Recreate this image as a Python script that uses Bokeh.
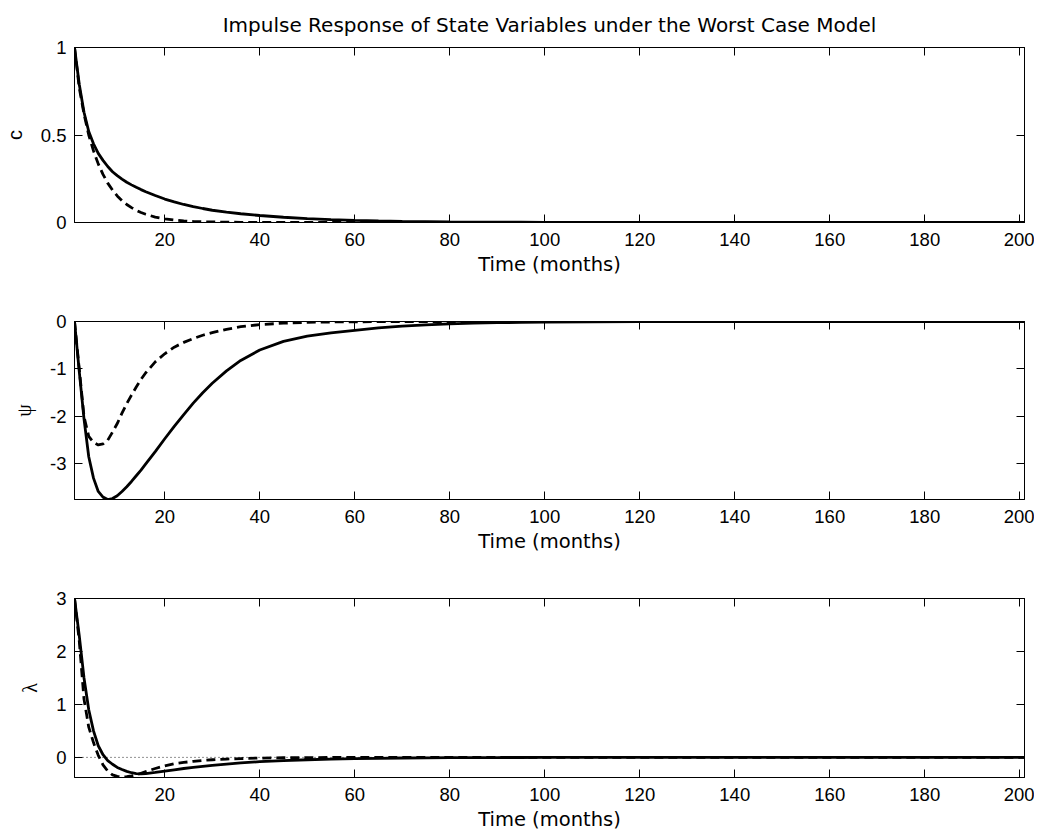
from bokeh.plotting import figure
from bokeh.layouts import column
from bokeh.models import Range1d, FixedTicker, LinearAxis, Span
from bokeh.embed import file_html
from bokeh.resources import INLINE

# ---------------- data ----------------
months = [1, 2, 3, 4, 5, 6, 7, 8, 9, 10, 11, 12, 13, 14, 15, 16, 18, 20, 22, 24,
          26, 28, 30, 33, 36, 40, 45, 50, 55, 60, 65, 70, 75, 80, 85, 90, 95, 100,
          110, 120, 140, 170, 201]

c_solid = [1.0, 0.79, 0.63, 0.52, 0.45, 0.395, 0.355, 0.32, 0.29, 0.268, 0.248, 0.23,
           0.215, 0.201, 0.188, 0.176, 0.154, 0.134, 0.118, 0.103, 0.091, 0.08, 0.07,
           0.059, 0.05, 0.04, 0.03, 0.022, 0.016, 0.012, 0.009, 0.0065, 0.005, 0.0036,
           0.0026, 0.0019, 0.0014, 0.001, 0.0005, 0.0003, 0.0001, 0.0, 0.0]
c_dashed = [1.0, 0.77, 0.62, 0.5, 0.41, 0.335, 0.275, 0.225, 0.185, 0.152, 0.125, 0.103,
            0.085, 0.07, 0.057, 0.047, 0.031, 0.021, 0.014, 0.009, 0.006, 0.004, 0.003,
            0.0018, 0.001, 0.0005, 0.0002, 0.0001, 0.0, 0.0, 0.0, 0.0, 0.0, 0.0,
            0.0, 0.0, 0.0, 0.0, 0.0, 0.0, 0.0, 0.0, 0.0]

psi_solid = [0.0, -1.05, -2.05, -2.85, -3.3, -3.58, -3.7, -3.75, -3.73, -3.67, -3.58, -3.48,
             -3.37, -3.25, -3.13, -3.0, -2.74, -2.47, -2.21, -1.96, -1.72, -1.5, -1.3,
             -1.04, -0.82, -0.6, -0.42, -0.31, -0.24, -0.185, -0.135, -0.097, -0.07, -0.05,
             -0.035, -0.025, -0.017, -0.012, -0.006, -0.003, -0.001, 0.0, 0.0]
psi_dashed = [0.0, -1.0, -2.0, -2.42, -2.55, -2.6, -2.58, -2.5, -2.33, -2.15, -1.93, -1.73,
              -1.55, -1.38, -1.22, -1.08, -0.85, -0.68, -0.54, -0.44, -0.36, -0.29, -0.235,
              -0.165, -0.11, -0.065, -0.035, -0.018, -0.01, -0.006, -0.003, -0.002, -0.001,
              0.0, 0.0, 0.0, 0.0, 0.0, 0.0, 0.0, 0.0, 0.0, 0.0]

lam_solid = [3.0, 2.3, 1.5, 0.9, 0.5, 0.22, 0.05, -0.06, -0.13, -0.19, -0.23, -0.265,
             -0.29, -0.305, -0.31, -0.305, -0.285, -0.26, -0.235, -0.21, -0.19, -0.17, -0.15,
             -0.127, -0.105, -0.082, -0.06, -0.045, -0.033, -0.024, -0.017, -0.012, -0.009,
             -0.006, -0.004, -0.003, -0.002, -0.001, 0.0, 0.0, 0.0, 0.0, 0.0]
lam_dashed = [3.0, 2.2, 1.1, 0.57, 0.28, 0.04, -0.14, -0.26, -0.33, -0.36, -0.37, -0.365,
              -0.35, -0.33, -0.3, -0.27, -0.21, -0.16, -0.12, -0.095, -0.075, -0.058, -0.045,
              -0.032, -0.022, -0.013, -0.007, -0.004, -0.002, -0.001, 0.0, 0.0, 0.0,
              0.0, 0.0, 0.0, 0.0, 0.0, 0.0, 0.0, 0.0, 0.0, 0.0]

title_text = "Impulse Response of State Variables under the Worst Case Model"
x_label = "Time (months)"
x_ticks = [20, 40, 60, 80, 100, 120, 140, 160, 180, 200]
x_limits = [1, 201]

c_ticks = [0, 0.5, 1]
c_tick_labels = ["0", "0.5", "1"]
psi_ticks = [-3, -2, -1, 0]
psi_tick_labels = ["-3", "-2", "-1", "0"]
lam_ticks = [0, 1, 2, 3]
lam_tick_labels = ["0", "1", "2", "3"]

c_limits = [0, 1]
psi_limits = [-3.75, 0]
lam_limits = [-0.38, 3]

TICK_FONT = "Liberation Sans"
TEXT_FONT = "DejaVu Sans"
TICK_SIZE = "18.5px"
LABEL_SIZE = "19.5px"
TITLE_SIZE = "20px"


def tick_axis(ticker):
    ax = LinearAxis(ticker=ticker)
    ax.major_label_text_color = None
    ax.major_label_text_font_size = "1px"
    ax.major_label_standoff = 0
    ax.major_tick_in = 8
    ax.major_tick_out = 0
    ax.minor_tick_in = 0
    ax.minor_tick_out = 0
    ax.axis_line_color = "black"
    ax.major_tick_line_color = "black"
    return ax


def make_panel(ylabel, ylabel_font, solid, dashed, ylim, yticks, ylabels,
               height, top, bottom, title=None, zero_line=False):
    p = figure(width=1034, height=height,
               x_range=Range1d(*x_limits), y_range=Range1d(*ylim),
               output_backend="svg", toolbar_location=None,
               min_border_left=72, min_border_right=10,
               min_border_top=top, min_border_bottom=bottom,
               title=title)
    p.background_fill_color = "white"
    p.border_fill_color = "white"
    p.outline_line_color = "black"
    p.outline_line_width = 1
    p.xgrid.visible = False
    p.ygrid.visible = False

    xa = p.xaxis[0]
    xa.ticker = FixedTicker(ticks=x_ticks, minor_ticks=[])
    xa.axis_label = x_label
    xa.axis_label_text_font = TEXT_FONT
    xa.axis_label_text_font_size = LABEL_SIZE
    xa.axis_label_text_font_style = "normal"
    xa.axis_label_standoff = 4
    xa.major_label_text_font = TICK_FONT
    xa.major_label_text_font_size = TICK_SIZE
    xa.major_label_standoff = 10
    xa.major_tick_in = 8
    xa.major_tick_out = 0
    xa.minor_tick_in = 0
    xa.minor_tick_out = 0
    xa.axis_line_color = "black"
    xa.major_tick_line_color = "black"
    xa.major_label_text_color = "black"
    xa.axis_label_text_color = "black"

    ya = p.yaxis[0]
    ya.ticker = FixedTicker(ticks=yticks, minor_ticks=[])
    ya.major_label_overrides = {t: s for t, s in zip(yticks, ylabels)}
    ya.axis_label = ylabel
    ya.axis_label_text_font = ylabel_font
    ya.axis_label_text_font_size = "20px"
    ya.axis_label_text_font_style = "normal"
    ya.axis_label_standoff = 12
    ya.major_label_text_font = TICK_FONT
    ya.major_label_text_font_size = TICK_SIZE
    ya.major_label_standoff = 8
    ya.major_tick_in = 8
    ya.major_tick_out = 0
    ya.minor_tick_in = 0
    ya.minor_tick_out = 0
    ya.axis_line_color = "black"
    ya.major_tick_line_color = "black"
    ya.major_label_text_color = "black"
    ya.axis_label_text_color = "black"

    p.add_layout(tick_axis(FixedTicker(ticks=x_ticks, minor_ticks=[])), "above")
    p.add_layout(tick_axis(FixedTicker(ticks=yticks, minor_ticks=[])), "right")

    if zero_line:
        p.add_layout(Span(location=0, dimension="width", line_color="#222222",
                          line_width=1, line_dash="1 3", level="underlay"))

    p.line(months, solid, line_color="black", line_width=2.8)
    p.line(months, dashed, line_color="black", line_width=2.8, line_dash="9 5")

    if title is not None:
        p.title.text_font = TEXT_FONT
        p.title.text_font_size = TITLE_SIZE
        p.title.text_font_style = "normal"
        p.title.align = "center"
        p.title.text_color = "black"
        p.title.standoff = 21
    return p


p1 = make_panel("c", TICK_FONT, c_solid, c_dashed, c_limits, c_ticks, c_tick_labels,
                height=282, top=45, bottom=60, title=title_text)
p2 = make_panel("ψ", "Liberation Serif", psi_solid, psi_dashed, psi_limits, psi_ticks,
                psi_tick_labels, height=277, top=39, bottom=60)
p3 = make_panel("λ", "Liberation Serif", lam_solid, lam_dashed, lam_limits, lam_ticks,
                lam_tick_labels, height=274, top=39, bottom=56, zero_line=True)

layout = column(p1, p2, p3, spacing=0)

open("out.html", "w").write(file_html(layout, INLINE))
